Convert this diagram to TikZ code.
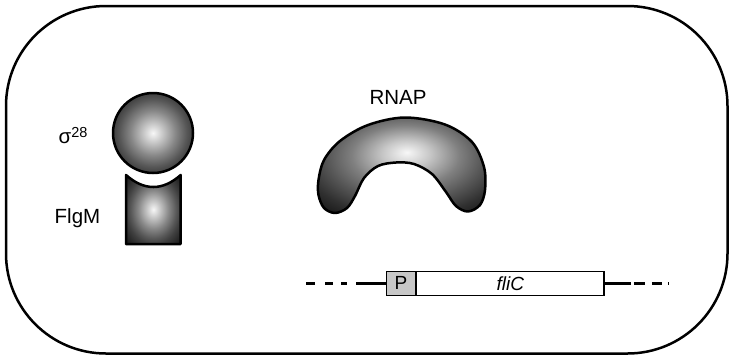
\documentclass[tikz,border=0pt]{standalone}
\usepackage{fontspec}
\setmainfont{Liberation Sans}
\usetikzlibrary{calc}

% sphere-like grey shadings, bright in the middle and dark at the rim
% (the path's bounding box spans the inner 25bp radius of a shading)
\pgfdeclareradialshading{orb}{\pgfpoint{0bp}{0bp}}{%
  color(0bp)=(white!97!black);
  color(6bp)=(black!22);
  color(14bp)=(black!47);
  color(21bp)=(black!66);
  color(25bp)=(black!75);
  color(36bp)=(black!93);
  color(50bp)=(black)}
\pgfdeclareradialshading{arch}{\pgfpoint{1.5bp}{6.8bp}}{%
  color(0bp)=(white!97!black);
  color(7bp)=(black!22);
  color(16bp)=(black!50);
  color(23bp)=(black!66);
  color(30bp)=(black!81);
  color(38bp)=(black!94);
  color(60bp)=(black)}

\tikzset{
  outline/.style={line width=2.5pt, line join=round},
  label/.style={font=\fontsize{20.5}{23}\selectfont, inner sep=0pt},
  genebox/.style={draw, line width=1.4pt, minimum height=24pt, inner sep=0pt,
    font=\fontsize{19}{21}\selectfont},
  dna/.style={line width=2.8pt, line cap=butt}
}

\begin{document}
\begin{tikzpicture}[x=1pt, y=-1pt]
\useasboundingbox (0,0) rectangle (730,357);

% cell boundary
\draw[outline, rounded corners=100pt] (6,6) rectangle (727.5,353.5);

% sigma factor and its anti-sigma factor
\node[circle, minimum size=80pt, inner sep=0pt, outline, draw, shading=orb]
  (sigma) at (153,133) {};
\draw[outline, shading=orb]
  (126,244) -- (126,175)
  .. controls (144.2,191) and (162.5,191) .. (180.7,175)
  -- (180.7,244) -- cycle;
\coordinate (flgm) at (153.3,210);

\node[label] (sigmalabel) at (73,135.5)
  {σ\raisebox{5.5pt}{\fontsize{14.5}{16}\selectfont 28}};
\node[label] (flgmlabel) at (77.5,218) {FlgM};

% RNA polymerase core
\draw[outline, shading=arch] plot[smooth cycle, tension=0.55] coordinates {
  (335,213) (324,208) (318.5,195) (318.5,180) (324,160) (340,141)
  (368,125) (405,117.5) (445,124.5) (472,142) (484,167) (485,190)
  (480,205) (468,211.5) (456,206) (446,192) (432,174) (414,164)
  (396,162.5) (378,166) (364,178) (355,196) (347,208)};
\node[label] (rnaplabel) at (398,97) {RNAP};

% fliC gene with its promoter
\node[genebox, fill=black!22, minimum width=28.5pt] (prom) at (401,283.3) {P};
\node[genebox, fill=white, minimum width=187.5pt, anchor=west] (flic)
  at (prom.east) {\itshape fliC};
\coordinate (dnaL) at (306,283.3);
\coordinate (dnaR) at (668,283.3);
\draw[dna, dash pattern=on 9pt off 10pt on 8pt off 8pt on 6pt off 9pt on 60pt]
  (dnaL) -- (prom.west);
\draw[dna, dash pattern=on 26pt off 3pt on 11pt off 7pt on 10pt off 6pt on 1.5pt off 20pt]
  (flic.east) -- (dnaR);
\end{tikzpicture}
\end{document}
